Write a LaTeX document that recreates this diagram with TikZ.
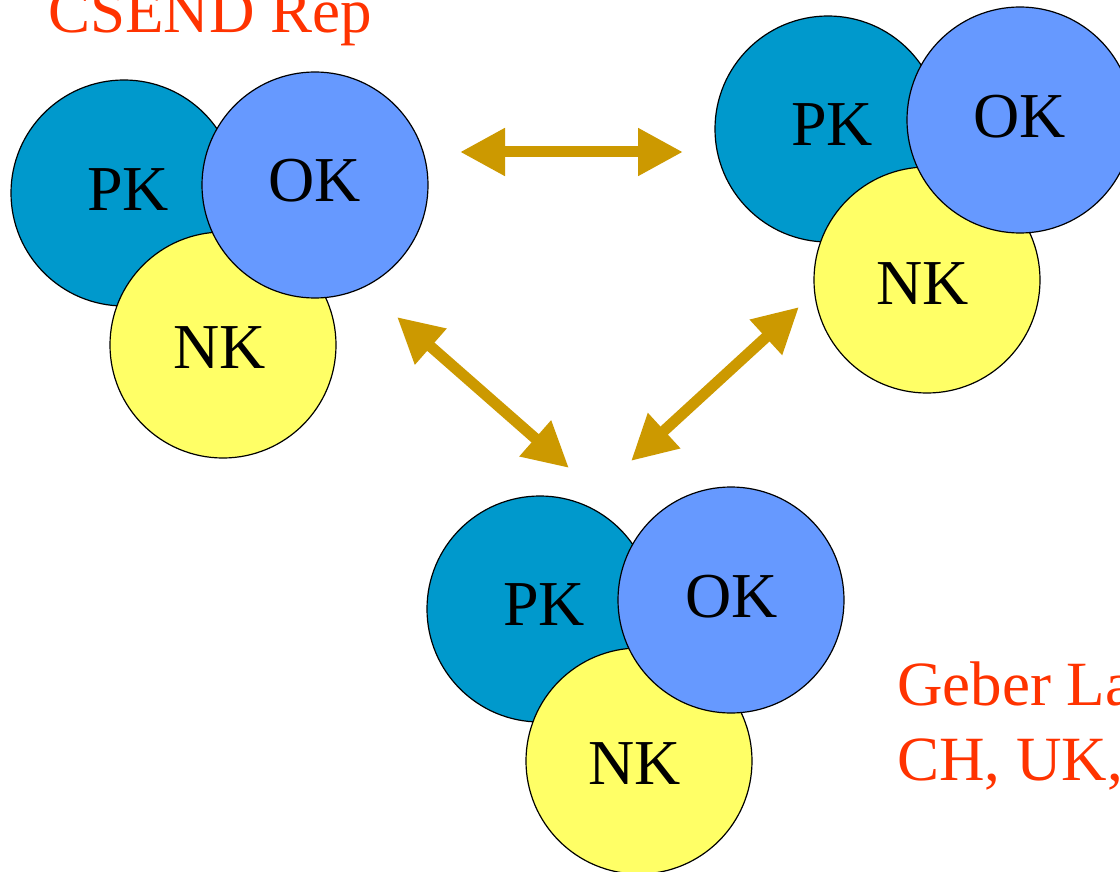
\documentclass[tikz,border=0pt]{standalone}
\usepackage{fontspec}
\setmainfont{Liberation Serif}
\usetikzlibrary{arrows.meta}
\definecolor{pkc}{HTML}{0099CC}
\definecolor{okc}{HTML}{6699FF}
\definecolor{nkc}{HTML}{FFFF66}
\definecolor{arrc}{HTML}{CC9900}
\definecolor{redtxt}{HTML}{FF3300}
\begin{document}
\begin{tikzpicture}[x=1pt,y=-1pt,
  circ/.style={circle, draw=black, line width=1.2pt, minimum size=226pt, inner sep=0pt},
  pkcirc/.style={circ, fill=pkc},
  okcirc/.style={circ, fill=okc},
  nkcirc/.style={circ, fill=nkc},
  lbl/.style={font=\fontsize{64}{64}\selectfont, inner sep=0pt},
  title/.style={font=\fontsize{63}{63}\selectfont, text=redtxt, inner sep=0pt, anchor=base west},
  dblarrow/.style={draw=arrc, line width=11pt,
    {Triangle[length=45pt,width=45pt]}-{Triangle[length=45pt,width=45pt]}}
]
\useasboundingbox (0,0) rectangle (1120,872);
\fill[white] (0,0) rectangle (1120,872);

% group 1 (top left)
\node[pkcirc] (pk1) at (124,193) {};
\node[nkcirc] (nk1) at (223,345) {};
\node[okcirc] (ok1) at (315,185) {};
\node[lbl] (pk1t) at (128,190) {PK};
\node[lbl] (nk1t) at (220,348) {NK};
\node[lbl] (ok1t) at (315,181) {OK};

% group 2 (top right)
\node[pkcirc] (pk2) at (828,129) {};
\node[nkcirc] (nk2) at (927,280) {};
\node[okcirc] (ok2) at (1020,120) {};
\node[lbl] (pk2t) at (832,125) {PK};
\node[lbl] (nk2t) at (923,284) {NK};
\node[lbl] (ok2t) at (1020,117) {OK};

% group 3 (bottom)
\node[pkcirc] (pk3) at (540,609) {};
\node[nkcirc] (nk3) at (639,761) {};
\node[okcirc] (ok3) at (731,600) {};
\node[lbl] (pk3t) at (544,605) {PK};
\node[lbl] (nk3t) at (635,764) {NK};
\node[lbl] (ok3t) at (732,597) {OK};

% arrows
\coordinate (a1) at (460,152);
\coordinate (b1) at (683,152);
\coordinate (a2) at (397,317);
\coordinate (b2) at (569,468);
\coordinate (a3) at (799,307);
\coordinate (b3) at (631,461);
\draw[dblarrow] (a1) -- (b1);
\draw[dblarrow] (a2) -- (b2);
\draw[dblarrow] (a3) -- (b3);

% texts
\node[title] (csend) at (48,33) {CSEND Rep};
\node[title] (geber) at (897,705) {Geber La};
\node[title] (chuk) at (897,780) {CH, UK,};
\end{tikzpicture}
\end{document}
